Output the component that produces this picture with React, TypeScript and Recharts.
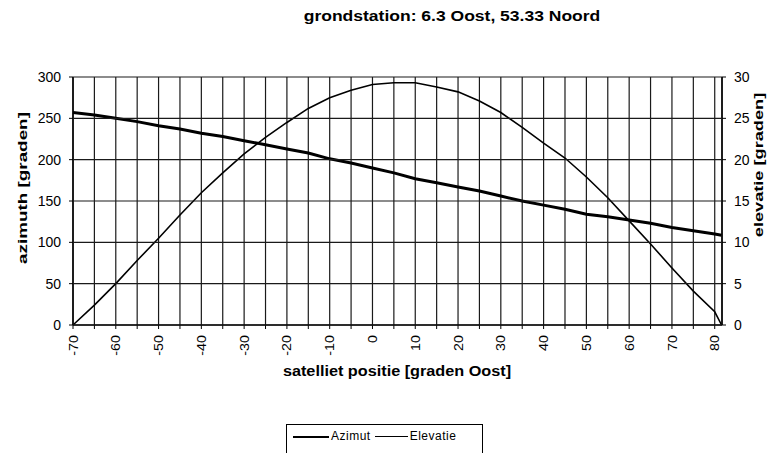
import React from 'react';
import { LineChart, Line, XAxis, YAxis, CartesianGrid, Label } from 'recharts';

// satellite longitude (degrees East)
const positions = [
  -70, -65, -60, -55, -50, -45, -40, -35, -30, -25, -20, -15, -10, -5, 0, 5,
  10, 15, 20, 25, 30, 35, 40, 45, 50, 55, 60, 65, 70, 75, 80, 81.6,
];
// azimuth in degrees
const azimuth = [
  257, 254, 250, 246, 241, 237, 232, 228, 223, 218, 213, 208, 201, 196, 190, 184,
  177, 172, 167, 162, 156, 150, 145, 140, 134, 131, 127, 123, 118, 114, 110, 108.5,
];
// elevation in degrees
const elevation = [
  0, 2.4, 5, 7.8, 10.5, 13.3, 16, 18.4, 20.7, 22.7, 24.5, 26.2, 27.5, 28.4, 29.1, 29.3,
  29.3, 28.8, 28.2, 27.1, 25.7, 23.9, 22, 20.2, 17.9, 15.4, 12.6, 9.8, 6.9, 4.1, 1.6, 0,
];

const xTicks = [
  -70, -65, -60, -55, -50, -45, -40, -35, -30, -25, -20, -15, -10, -5, 0, 5,
  10, 15, 20, 25, 30, 35, 40, 45, 50, 55, 60, 65, 70, 75, 80,
];
const leftTicks = [0, 50, 100, 150, 200, 250, 300];
const rightTicks = [0, 5, 10, 15, 20, 25, 30];

const data = positions.map((p, i) => ({
  pos: p,
  azimut: azimuth[i],
  elevatie: elevation[i],
}));

const FONT = '"Liberation Sans", Arial, Helvetica, sans-serif';
const PLOT_W = 649;
const TICK_GAP = 12; // tickSize + tickMargin

const XTick = ({ x, y, payload }: any) => {
  if (payload.value % 10 !== 0) return null;
  return (
    <text
      transform={`translate(${x},${y}) rotate(-90) scale(1.1,1)`}
      textAnchor="end"
      dy="0.35em"
      fontSize={13}
      fontFamily={FONT}
      fill="#000"
    >
      {payload.value}
    </text>
  );
};

// left tick: label plus the horizontal gridline across the plot
const LeftTick = ({ x, y, payload }: any) => (
  <g>
    <line x1={x + TICK_GAP} x2={x + TICK_GAP + PLOT_W} y1={y} y2={y} stroke="#1a1a1a" strokeWidth={1.2} />
    <text x={x} y={y} dy="0.35em" textAnchor="end" fontSize={14} fontFamily={FONT} fill="#000">
      {payload.value}
    </text>
  </g>
);

const App = () => {
  return (
    <div style={{ position: 'absolute', left: 0, top: 0, width: 772, height: 453, background: '#fff' }}>
      <div
        style={{
          position: 'absolute',
          left: 452,
          top: 8,
          transform: 'translateX(-50%) scaleX(1.25)',
          whiteSpace: 'nowrap',
          fontFamily: FONT,
          fontWeight: 'bold',
          fontSize: 14,
          lineHeight: '16px',
        }}
      >
        grondstation: 6.3 Oost, 53.33 Noord
      </div>
      <LineChart
        width={772}
        height={453}
        data={data}
        margin={{ top: 77, right: 0, left: 0, bottom: 0 }}
      >
        <CartesianGrid horizontal={false} stroke="#1a1a1a" strokeWidth={1.2} />
        <XAxis
          dataKey="pos"
          type="number"
          domain={[-70, 81.7]}
          ticks={xTicks}
          interval={0}
          height={128}
          tickSize={4}
          tickMargin={6}
          tick={<XTick />}
          axisLine={{ stroke: '#000', strokeWidth: 1.5 }}
          tickLine={{ stroke: '#000' }}
        >
          <Label
            content={() => (
              <text
                transform="translate(397,376) scale(1.16,1)"
                textAnchor="middle"
                fontFamily={FONT}
                fontWeight="bold"
                fontSize={14}
                fill="#000"
              >
                satelliet positie [graden Oost]
              </text>
            )}
          />
        </XAxis>
        <YAxis
          domain={[0, 300]}
          ticks={leftTicks}
          interval={0}
          width={73}
          tickSize={4}
          tickMargin={8}
          tick={<LeftTick />}
          axisLine={{ stroke: '#000', strokeWidth: 1.5 }}
          tickLine={{ stroke: '#000' }}
        >
          <Label
            content={() => (
              <text
                transform="translate(22,188) rotate(-90) scale(1.45,1)"
                textAnchor="middle"
                dy="0.35em"
                fontFamily={FONT}
                fontWeight="bold"
                fontSize={13}
                fill="#000"
              >
                azimuth [graden]
              </text>
            )}
          />
        </YAxis>
        <YAxis
          yAxisId="right"
          orientation="right"
          domain={[0, 30]}
          ticks={rightTicks}
          interval={0}
          width={50}
          tickSize={4}
          tickMargin={8}
          tick={{ fontSize: 14, fill: '#000', fontFamily: FONT }}
          axisLine={{ stroke: '#000', strokeWidth: 1.5 }}
          tickLine={{ stroke: '#000' }}
        >
          <Label
            content={() => (
              <text
                transform="translate(758,165) rotate(-90) scale(1.4,1)"
                textAnchor="middle"
                dy="0.35em"
                fontFamily={FONT}
                fontWeight="bold"
                fontSize={13}
                fill="#000"
              >
                elevatie [graden]
              </text>
            )}
          />
        </YAxis>
        <Line
          dataKey="azimut"
          name="Azimut"
          type="linear"
          stroke="#000"
          strokeWidth={3}
          dot={false}
          isAnimationActive={false}
        />
        <Line
          yAxisId="right"
          dataKey="elevatie"
          name="Elevatie"
          type="linear"
          stroke="#000"
          strokeWidth={1.6}
          dot={false}
          isAnimationActive={false}
        />
      </LineChart>
      <div
        style={{
          position: 'absolute',
          left: 286,
          top: 424,
          width: 197,
          height: 40,
          border: '1px solid #000',
          boxSizing: 'border-box',
          fontFamily: FONT,
          fontSize: 12,
          display: 'flex',
          alignItems: 'flex-start',
          paddingTop: 4,
          paddingLeft: 6,
        }}
      >
        <span style={{ display: 'inline-block', width: 36, borderTop: '2.5px solid #000', marginTop: 7 }} />
        <span style={{ marginLeft: 2, letterSpacing: 0.5 }}>Azimut</span>
        <span style={{ display: 'inline-block', width: 33, borderTop: '1.5px solid #000', marginTop: 7, marginLeft: 4 }} />
        <span style={{ marginLeft: 2, letterSpacing: 0.5 }}>Elevatie</span>
      </div>
    </div>
  );
};

export default App;
